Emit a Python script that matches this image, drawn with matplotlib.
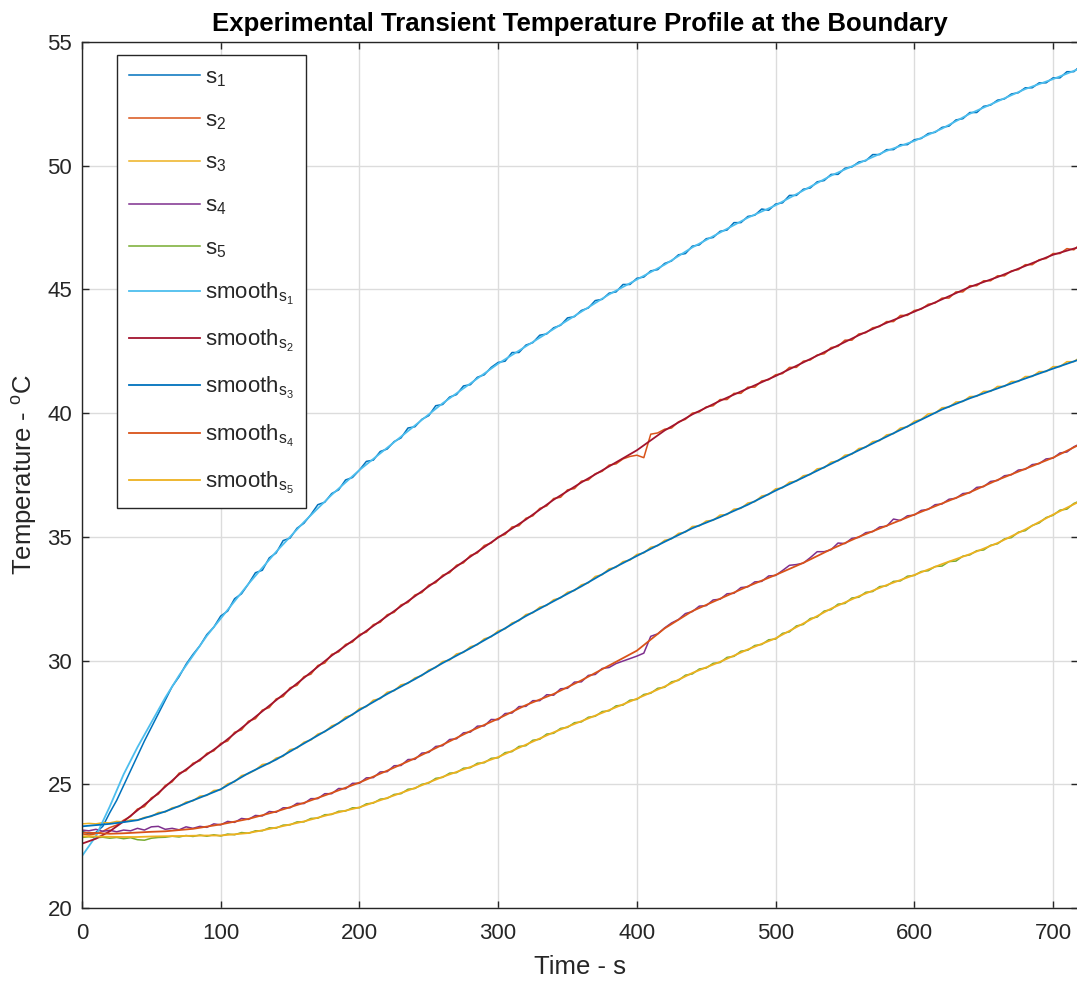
import numpy as np
import matplotlib
matplotlib.use("Agg")
import matplotlib.pyplot as plt

plt.rcParams["font.family"] = ["Liberation Sans", "DejaVu Sans"]
plt.rcParams["mathtext.default"] = "regular"

# raw sensor samples, one every 5 s (last one at 718 s)
RAW_T = np.r_[np.arange(0, 716, 5), 718]

S1 = [
    23.10, 23.00, 23.05, 23.30, 23.85, 24.35, 24.95, 25.55, 26.15, 26.75,
    27.30, 27.85, 28.40, 28.95, 29.35, 29.85, 30.25, 30.60, 31.05, 31.35,
    31.80, 32.00, 32.50, 32.70, 33.10, 33.55, 33.65, 34.15, 34.35, 34.85,
    34.95, 35.35, 35.55, 35.90, 36.30, 36.40, 36.75, 36.90, 37.30, 37.40,
    37.70, 38.05, 38.10, 38.45, 38.55, 38.85, 39.00, 39.40, 39.45, 39.75,
    39.90, 40.30, 40.35, 40.65, 40.75, 41.10, 41.15, 41.45, 41.55, 41.85,
    42.05, 42.10, 42.45, 42.45, 42.75, 42.85, 43.15, 43.20, 43.45, 43.55,
    43.85, 43.90, 44.15, 44.25, 44.55, 44.60, 44.85, 44.90, 45.20, 45.20,
    45.45, 45.50, 45.75, 45.80, 46.05, 46.15, 46.40, 46.45, 46.75, 46.80,
    47.05, 47.10, 47.35, 47.40, 47.70, 47.70, 47.95, 48.00, 48.25, 48.20,
    48.45, 48.50, 48.80, 48.80, 49.05, 49.10, 49.35, 49.40, 49.65, 49.65,
    49.90, 49.95, 50.15, 50.20, 50.45, 50.45, 50.65, 50.65, 50.85, 50.85,
    51.05, 51.10, 51.30, 51.35, 51.55, 51.60, 51.85, 51.90, 52.15, 52.15,
    52.40, 52.45, 52.65, 52.70, 52.90, 52.95, 53.15, 53.15, 53.35, 53.35,
    53.55, 53.55, 53.80, 53.80, 53.95,
]
S2 = [
    23.00, 22.95, 23.00, 23.10, 23.25, 23.35, 23.55, 23.70, 24.00, 24.10,
    24.45, 24.60, 24.95, 25.10, 25.45, 25.55, 25.85, 25.95, 26.25, 26.35,
    26.65, 26.75, 27.10, 27.20, 27.55, 27.65, 28.00, 28.10, 28.45, 28.55,
    28.90, 29.00, 29.35, 29.45, 29.80, 29.90, 30.25, 30.35, 30.65, 30.75,
    31.05, 31.15, 31.45, 31.55, 31.85, 31.95, 32.25, 32.35, 32.65, 32.75,
    33.05, 33.15, 33.45, 33.55, 33.85, 33.95, 34.25, 34.35, 34.65, 34.75,
    35.00, 35.10, 35.40, 35.45, 35.75, 35.85, 36.15, 36.25, 36.55, 36.60,
    36.90, 36.95, 37.25, 37.30, 37.55, 37.65, 37.90, 37.95, 38.15, 38.25,
    38.30, 38.20, 39.15, 39.20, 39.35, 39.40, 39.65, 39.75, 40.00, 40.05,
    40.25, 40.30, 40.55, 40.55, 40.80, 40.80, 41.05, 41.05, 41.30, 41.35,
    41.55, 41.60, 41.85, 41.85, 42.10, 42.15, 42.35, 42.40, 42.65, 42.70,
    42.95, 42.95, 43.20, 43.25, 43.45, 43.50, 43.70, 43.70, 43.95, 43.95,
    44.15, 44.20, 44.40, 44.45, 44.65, 44.65, 44.90, 44.90, 45.15, 45.15,
    45.35, 45.35, 45.55, 45.55, 45.75, 45.80, 46.00, 46.00, 46.20, 46.25,
    46.45, 46.45, 46.65, 46.60, 46.75,
]
S3 = [
    23.40, 23.42, 23.40, 23.45, 23.44, 23.50, 23.48, 23.56, 23.55, 23.66,
    23.70, 23.86, 23.88, 24.05, 24.10, 24.28, 24.33, 24.52, 24.55, 24.75,
    24.78, 25.02, 25.10, 25.35, 25.43, 25.58, 25.80, 25.84, 26.06, 26.13,
    26.40, 26.46, 26.70, 26.79, 27.03, 27.12, 27.36, 27.46, 27.72, 27.80,
    28.06, 28.14, 28.40, 28.46, 28.72, 28.78, 29.02, 29.08, 29.30, 29.39,
    29.62, 29.72, 29.96, 30.02, 30.27, 30.33, 30.56, 30.64, 30.88, 30.96,
    31.20, 31.28, 31.52, 31.61, 31.86, 31.93, 32.16, 32.23, 32.46, 32.53,
    32.76, 32.83, 33.06, 33.14, 33.40, 33.47, 33.71, 33.77, 34.00, 34.06,
    34.29, 34.35, 34.58, 34.64, 34.86, 34.92, 35.14, 35.19, 35.42, 35.44,
    35.64, 35.67, 35.88, 35.90, 36.12, 36.15, 36.37, 36.42, 36.65, 36.71,
    36.94, 36.98, 37.21, 37.25, 37.47, 37.52, 37.75, 37.79, 38.02, 38.07,
    38.30, 38.34, 38.57, 38.62, 38.85, 38.89, 39.12, 39.17, 39.40, 39.44,
    39.67, 39.75, 39.97, 40.00, 40.22, 40.24, 40.45, 40.47, 40.67, 40.68,
    40.88, 40.88, 41.08, 41.08, 41.28, 41.28, 41.48, 41.48, 41.68, 41.68,
    41.88, 41.88, 42.08, 42.08, 42.20,
]
S4 = [
    23.15, 23.12, 23.18, 23.10, 23.14, 23.08, 23.15, 23.12, 23.22, 23.15,
    23.28, 23.30, 23.18, 23.22, 23.16, 23.28, 23.22, 23.30, 23.26, 23.40,
    23.36, 23.50, 23.46, 23.62, 23.58, 23.74, 23.72, 23.90, 23.87, 24.05,
    24.05, 24.23, 24.22, 24.42, 24.42, 24.62, 24.62, 24.83, 24.82, 25.04,
    25.04, 25.26, 25.27, 25.50, 25.51, 25.75, 25.76, 26.00, 26.01, 26.26,
    26.29, 26.53, 26.56, 26.81, 26.84, 27.08, 27.11, 27.35, 27.36, 27.62,
    27.61, 27.86, 27.88, 28.14, 28.15, 28.38, 28.38, 28.62, 28.60, 28.86,
    28.88, 29.13, 29.14, 29.40, 29.44, 29.68, 29.72, 29.88, 29.98, 30.08,
    30.18, 30.30, 30.98, 31.08, 31.32, 31.52, 31.66, 31.90, 31.98, 32.20,
    32.22, 32.45, 32.48, 32.70, 32.72, 32.95, 32.98, 33.18, 33.20, 33.42,
    33.44, 33.64, 33.85, 33.88, 33.94, 34.16, 34.40, 34.40, 34.48, 34.75,
    34.73, 34.94, 34.98, 35.17, 35.21, 35.40, 35.43, 35.72, 35.66, 35.85,
    35.88, 36.07, 36.11, 36.30, 36.33, 36.52, 36.56, 36.75, 36.78, 37.00,
    37.03, 37.24, 37.28, 37.47, 37.51, 37.70, 37.73, 37.92, 37.96, 38.15,
    38.18, 38.39, 38.43, 38.64, 38.72,
]
S5 = [
    22.85, 22.88, 22.84, 22.86, 22.82, 22.85, 22.80, 22.84, 22.76, 22.74,
    22.82, 22.85, 22.86, 22.90, 22.87, 22.93, 22.89, 22.95, 22.90, 22.96,
    22.91, 22.99, 22.96, 23.05, 23.02, 23.12, 23.12, 23.24, 23.23, 23.35,
    23.36, 23.48, 23.48, 23.62, 23.63, 23.77, 23.78, 23.91, 23.92, 24.05,
    24.05, 24.21, 24.24, 24.40, 24.43, 24.59, 24.62, 24.80, 24.83, 25.00,
    25.05, 25.24, 25.28, 25.45, 25.47, 25.65, 25.67, 25.85, 25.87, 26.05,
    26.07, 26.28, 26.32, 26.53, 26.56, 26.78, 26.82, 27.03, 27.06, 27.26,
    27.30, 27.49, 27.52, 27.71, 27.75, 27.94, 27.97, 28.17, 28.20, 28.40,
    28.43, 28.63, 28.68, 28.88, 28.92, 29.14, 29.20, 29.41, 29.46, 29.66,
    29.70, 29.89, 29.92, 30.13, 30.17, 30.38, 30.42, 30.61, 30.65, 30.84,
    30.87, 31.10, 31.16, 31.40, 31.46, 31.70, 31.76, 32.00, 32.06, 32.28,
    32.31, 32.53, 32.56, 32.76, 32.79, 32.99, 33.02, 33.20, 33.22, 33.41,
    33.44, 33.60, 33.63, 33.80, 33.82, 34.00, 34.02, 34.22, 34.27, 34.44,
    34.47, 34.66, 34.72, 34.92, 34.97, 35.19, 35.25, 35.46, 35.56, 35.78,
    35.87, 36.08, 36.12, 36.35, 36.42,
]

# smoothed curves
SMOOTH_T = [0, 10, 20, 30, 40, 50, 60, 70, 80, 90, 100,
            120, 140, 160, 180, 200, 220, 240, 260, 280, 300,
            320, 340, 360, 380, 400, 420, 440, 460, 480, 500,
            520, 540, 560, 580, 600, 620, 640, 660, 680, 700, 718]
SM1 = [22.1, 22.9, 24.1, 25.4, 26.5, 27.5, 28.5, 29.4, 30.2, 31.0, 31.7,
       33.1, 34.4, 35.6, 36.7, 37.7, 38.6, 39.5, 40.4, 41.2, 42.0,
       42.7, 43.4, 44.1, 44.8, 45.4, 46.0, 46.7, 47.3, 47.9, 48.4,
       49.0, 49.6, 50.1, 50.6, 51.0, 51.5, 52.1, 52.6, 53.1, 53.5, 53.9]
SM2 = [22.6, 22.8, 23.1, 23.5, 23.95, 24.4, 24.9, 25.4, 25.8, 26.2, 26.6,
       27.5, 28.4, 29.3, 30.2, 31.0, 31.8, 32.6, 33.4, 34.2, 34.97,
       35.7, 36.5, 37.2, 37.85, 38.5, 39.3, 39.95, 40.5, 41.0, 41.5,
       42.05, 42.6, 43.15, 43.65, 44.1, 44.6, 45.1, 45.5, 45.95, 46.4, 46.7]
SM3 = [23.3, 23.35, 23.4, 23.47, 23.55, 23.72, 23.9, 24.12, 24.35, 24.57, 24.8,
       25.45, 26.0, 26.65, 27.3, 28.0, 28.65, 29.25, 29.9, 30.5, 31.14,
       31.8, 32.4, 33.0, 33.65, 34.23, 34.8, 35.35, 35.8, 36.3, 36.87,
       37.4, 37.95, 38.5, 39.05, 39.6, 40.15, 40.6, 41.0, 41.4, 41.8, 42.15]
SM4 = [23.05, 23.03, 23.0, 23.02, 23.05, 23.08, 23.1, 23.15, 23.2, 23.29, 23.38,
       23.6, 23.9, 24.25, 24.65, 25.07, 25.55, 26.05, 26.6, 27.15, 27.65,
       28.2, 28.65, 29.2, 29.8, 30.4, 31.3, 32.0, 32.5, 33.0, 33.46,
       33.95, 34.5, 35.0, 35.45, 35.9, 36.35, 36.8, 37.3, 37.75, 38.2, 38.7]
SM5 = [22.9, 22.89, 22.88, 22.87, 22.87, 22.89, 22.9, 22.91, 22.92, 22.93, 22.93,
       23.03, 23.25, 23.5, 23.8, 24.07, 24.45, 24.85, 25.3, 25.7, 26.1,
       26.6, 27.1, 27.55, 28.0, 28.46, 28.95, 29.5, 29.95, 30.45, 30.9,
       31.5, 32.1, 32.6, 33.05, 33.46, 33.9, 34.3, 34.75, 35.3, 35.9, 36.4]

RAW_LABELS = ["s$_1$", "s$_2$", "s$_3$", "s$_4$", "s$_5$"]
SMOOTH_LABELS = ["smooth$_{s_1}$", "smooth$_{s_2}$", "smooth$_{s_3}$",
                 "smooth$_{s_4}$", "smooth$_{s_5}$"]
RAW_COLORS = ["#0072BD", "#D95319", "#EDB120", "#7E2F8E", "#77AC30"]
SMOOTH_COLORS = ["#4DBEEE", "#A2142F", "#0072BD", "#D95319", "#EDB120"]

fig = plt.figure(figsize=(10.77, 9.83), dpi=100)
ax = fig.add_axes([82 / 1077, 1 - 908 / 983, 996 / 1077, 866 / 983])

for ys, color, label in zip([S1, S2, S3, S4, S5], RAW_COLORS, RAW_LABELS):
    ax.plot(RAW_T, ys, color=color, linewidth=1.1, label=label)
for ys, color, label in zip([SM1, SM2, SM3, SM4, SM5], SMOOTH_COLORS, SMOOTH_LABELS):
    ax.plot(SMOOTH_T, ys, color=color, linewidth=1.3, label=label)

ax.set_xlim(0, 718)
ax.set_ylim(20, 55)
ax.set_xticks(range(0, 701, 100))
ax.set_yticks(range(20, 56, 5))
ax.grid(True, color="#dcdcdc", linewidth=1.0)
ax.set_axisbelow(True)
ax.tick_params(direction="in", length=5, width=1, top=True, right=True,
               labelsize=16, colors="#262626")
ax.tick_params(axis="x", pad=11)
ax.tick_params(axis="y", pad=7)
for spine in ax.spines.values():
    spine.set_color("#262626")
    spine.set_linewidth(1.0)

ax.set_xlabel("Time - s", fontsize=18.5, color="#262626", labelpad=8)
ax.set_ylabel("Temperature - $^o$C", fontsize=18.5, color="#262626", labelpad=6)
ax.set_title("Experimental Transient Temperature Profile at the Boundary",
             fontsize=18.5, fontweight="bold", color="#000000", pad=8)

leg = ax.legend(loc="upper left", bbox_to_anchor=(0.035, 0.985), borderaxespad=0,
                fontsize=16, handlelength=3.2, labelspacing=0.95, handletextpad=0.2,
                fancybox=False, framealpha=1, edgecolor="#262626", borderpad=0.55)
leg.get_frame().set_linewidth(1.0)
for text in leg.get_texts():
    text.set_color("#262626")

fig.savefig("out.png", dpi=100)
